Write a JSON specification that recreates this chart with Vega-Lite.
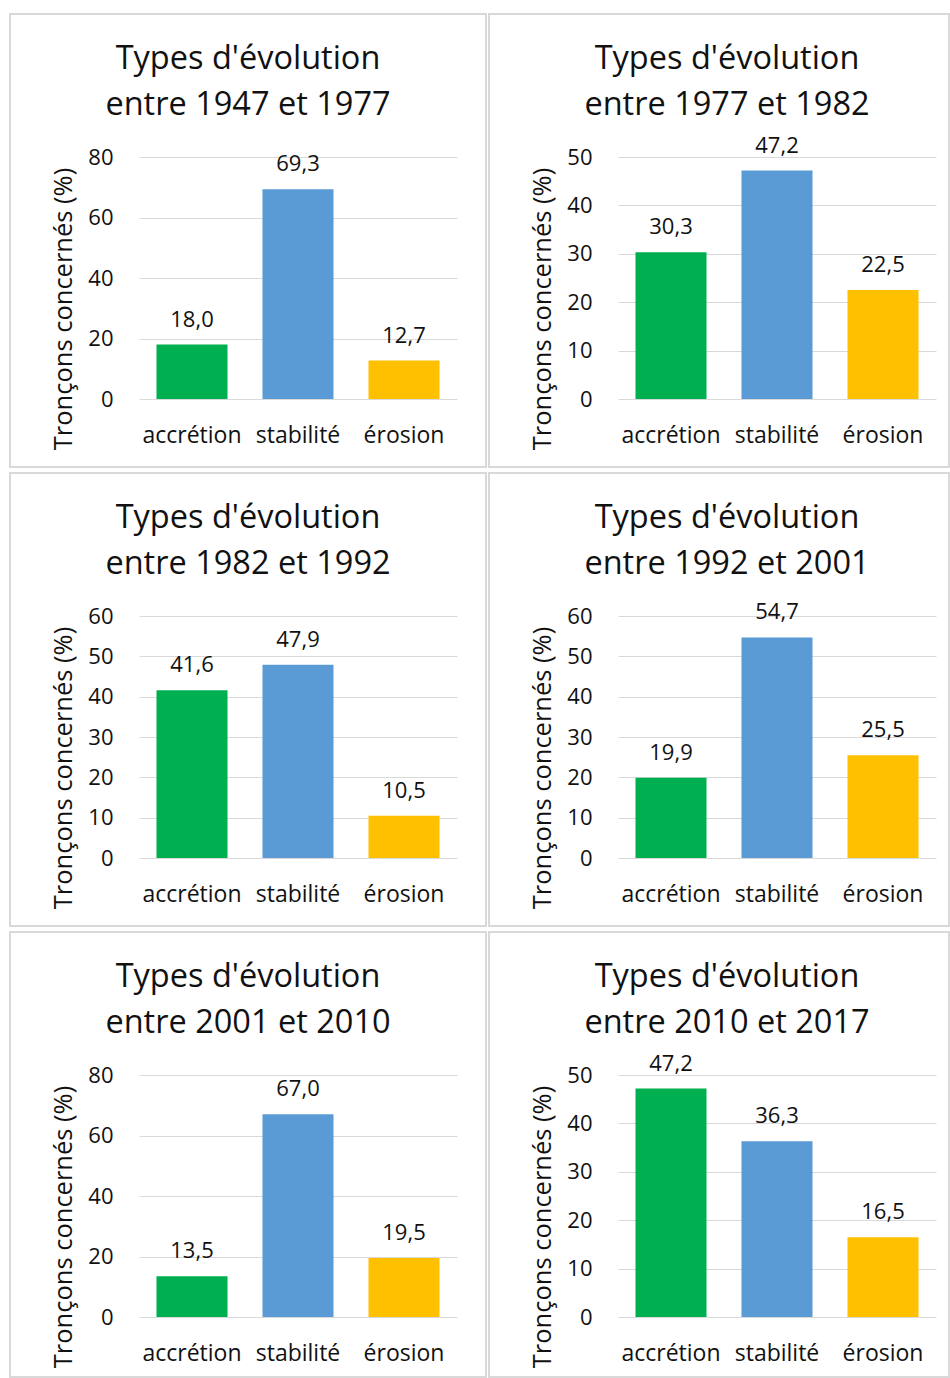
{
  "$schema": "https://vega.github.io/schema/vega-lite/v6.json",
  "padding": {"left": 9, "top": 13, "right": 0, "bottom": 0},
  "background": "white",
  "data": {"values": [
    {"periode": "1947-1977", "type": "accrétion", "valeur": 18.0},
    {"periode": "1947-1977", "type": "stabilité", "valeur": 69.3},
    {"periode": "1947-1977", "type": "érosion", "valeur": 12.7},
    {"periode": "1977-1982", "type": "accrétion", "valeur": 30.3},
    {"periode": "1977-1982", "type": "stabilité", "valeur": 47.2},
    {"periode": "1977-1982", "type": "érosion", "valeur": 22.5},
    {"periode": "1982-1992", "type": "accrétion", "valeur": 41.6},
    {"periode": "1982-1992", "type": "stabilité", "valeur": 47.9},
    {"periode": "1982-1992", "type": "érosion", "valeur": 10.5},
    {"periode": "1992-2001", "type": "accrétion", "valeur": 19.9},
    {"periode": "1992-2001", "type": "stabilité", "valeur": 54.7},
    {"periode": "1992-2001", "type": "érosion", "valeur": 25.5},
    {"periode": "2001-2010", "type": "accrétion", "valeur": 13.5},
    {"periode": "2001-2010", "type": "stabilité", "valeur": 67.0},
    {"periode": "2001-2010", "type": "érosion", "valeur": 19.5},
    {"periode": "2010-2017", "type": "accrétion", "valeur": 47.2},
    {"periode": "2010-2017", "type": "stabilité", "valeur": 36.3},
    {"periode": "2010-2017", "type": "érosion", "valeur": 16.5}
  ]},
  "columns": 2,
  "spacing": {"row": 4, "column": 1},
  "concat": [
    {
      "width": 476, "height": 453,
      "transform": [{"filter": "datum.periode == '1947-1977'"}],
      "title": {"text": ["Types d'évolution", "entre 1947 et 1977"]},
      "encoding": {
        "x": {"field": "type", "type": "nominal", "sort": ["accrétion", "stabilité", "érosion"], "scale": {"range": [129, 447], "paddingInner": 0.33, "paddingOuter": 0.165}, "axis": {"offset": -68}},
        "y": {"field": "valeur", "type": "quantitative", "scale": {"domain": [0, 80], "range": [385, 143], "nice": false, "zero": true}, "axis": {"values": [0, 20, 40, 60, 80], "offset": -129, "title": "Tronçons concernés (%)"}}
      },
      "layer": [
        {"mark": "bar", "encoding": {"color": {"field": "type", "type": "nominal", "scale": {"domain": ["accrétion", "stabilité", "érosion"], "range": ["#00b050", "#5b9bd5", "#ffc000"]}, "legend": null}}},
        {"mark": {"type": "text", "baseline": "alphabetic", "dy": -18, "fontSize": 22, "color": "#111111"}, "encoding": {"text": {"field": "valeur", "type": "quantitative", "format": ".1f"}}}
      ]
    },
    {
      "width": 460, "height": 453,
      "transform": [{"filter": "datum.periode == '1977-1982'"}],
      "title": {"text": ["Types d'évolution", "entre 1977 et 1982"], "dx": 8},
      "encoding": {
        "x": {"field": "type", "type": "nominal", "sort": ["accrétion", "stabilité", "érosion"], "scale": {"range": [129, 447], "paddingInner": 0.33, "paddingOuter": 0.165}, "axis": {"offset": -68}},
        "y": {"field": "valeur", "type": "quantitative", "scale": {"domain": [0, 50], "range": [385, 143], "nice": false, "zero": true}, "axis": {"values": [0, 10, 20, 30, 40, 50], "offset": -129, "title": "Tronçons concernés (%)"}}
      },
      "layer": [
        {"mark": "bar", "encoding": {"color": {"field": "type", "type": "nominal", "scale": {"domain": ["accrétion", "stabilité", "érosion"], "range": ["#00b050", "#5b9bd5", "#ffc000"]}, "legend": null}}},
        {"mark": {"type": "text", "baseline": "alphabetic", "dy": -18, "fontSize": 22, "color": "#111111"}, "encoding": {"text": {"field": "valeur", "type": "quantitative", "format": ".1f"}}}
      ]
    },
    {
      "width": 476, "height": 453,
      "transform": [{"filter": "datum.periode == '1982-1992'"}],
      "title": {"text": ["Types d'évolution", "entre 1982 et 1992"]},
      "encoding": {
        "x": {"field": "type", "type": "nominal", "sort": ["accrétion", "stabilité", "érosion"], "scale": {"range": [129, 447], "paddingInner": 0.33, "paddingOuter": 0.165}, "axis": {"offset": -68}},
        "y": {"field": "valeur", "type": "quantitative", "scale": {"domain": [0, 60], "range": [385, 143], "nice": false, "zero": true}, "axis": {"values": [0, 10, 20, 30, 40, 50, 60], "offset": -129, "title": "Tronçons concernés (%)"}}
      },
      "layer": [
        {"mark": "bar", "encoding": {"color": {"field": "type", "type": "nominal", "scale": {"domain": ["accrétion", "stabilité", "érosion"], "range": ["#00b050", "#5b9bd5", "#ffc000"]}, "legend": null}}},
        {"mark": {"type": "text", "baseline": "alphabetic", "dy": -18, "fontSize": 22, "color": "#111111"}, "encoding": {"text": {"field": "valeur", "type": "quantitative", "format": ".1f"}}}
      ]
    },
    {
      "width": 460, "height": 453,
      "transform": [{"filter": "datum.periode == '1992-2001'"}],
      "title": {"text": ["Types d'évolution", "entre 1992 et 2001"], "dx": 8},
      "encoding": {
        "x": {"field": "type", "type": "nominal", "sort": ["accrétion", "stabilité", "érosion"], "scale": {"range": [129, 447], "paddingInner": 0.33, "paddingOuter": 0.165}, "axis": {"offset": -68}},
        "y": {"field": "valeur", "type": "quantitative", "scale": {"domain": [0, 60], "range": [385, 143], "nice": false, "zero": true}, "axis": {"values": [0, 10, 20, 30, 40, 50, 60], "offset": -129, "title": "Tronçons concernés (%)"}}
      },
      "layer": [
        {"mark": "bar", "encoding": {"color": {"field": "type", "type": "nominal", "scale": {"domain": ["accrétion", "stabilité", "érosion"], "range": ["#00b050", "#5b9bd5", "#ffc000"]}, "legend": null}}},
        {"mark": {"type": "text", "baseline": "alphabetic", "dy": -18, "fontSize": 22, "color": "#111111"}, "encoding": {"text": {"field": "valeur", "type": "quantitative", "format": ".1f"}}}
      ]
    },
    {
      "width": 476, "height": 445,
      "transform": [{"filter": "datum.periode == '2001-2010'"}],
      "title": {"text": ["Types d'évolution", "entre 2001 et 2010"]},
      "encoding": {
        "x": {"field": "type", "type": "nominal", "sort": ["accrétion", "stabilité", "érosion"], "scale": {"range": [129, 447], "paddingInner": 0.33, "paddingOuter": 0.165}, "axis": {"offset": -60}},
        "y": {"field": "valeur", "type": "quantitative", "scale": {"domain": [0, 80], "range": [385, 143], "nice": false, "zero": true}, "axis": {"values": [0, 20, 40, 60, 80], "offset": -129, "title": "Tronçons concernés (%)"}}
      },
      "layer": [
        {"mark": "bar", "encoding": {"color": {"field": "type", "type": "nominal", "scale": {"domain": ["accrétion", "stabilité", "érosion"], "range": ["#00b050", "#5b9bd5", "#ffc000"]}, "legend": null}}},
        {"mark": {"type": "text", "baseline": "alphabetic", "dy": -18, "fontSize": 22, "color": "#111111"}, "encoding": {"text": {"field": "valeur", "type": "quantitative", "format": ".1f"}}}
      ]
    },
    {
      "width": 460, "height": 445,
      "transform": [{"filter": "datum.periode == '2010-2017'"}],
      "title": {"text": ["Types d'évolution", "entre 2010 et 2017"], "dx": 8},
      "encoding": {
        "x": {"field": "type", "type": "nominal", "sort": ["accrétion", "stabilité", "érosion"], "scale": {"range": [129, 447], "paddingInner": 0.33, "paddingOuter": 0.165}, "axis": {"offset": -60}},
        "y": {"field": "valeur", "type": "quantitative", "scale": {"domain": [0, 50], "range": [385, 143], "nice": false, "zero": true}, "axis": {"values": [0, 10, 20, 30, 40, 50], "offset": -129, "title": "Tronçons concernés (%)"}}
      },
      "layer": [
        {"mark": "bar", "encoding": {"color": {"field": "type", "type": "nominal", "scale": {"domain": ["accrétion", "stabilité", "érosion"], "range": ["#00b050", "#5b9bd5", "#ffc000"]}, "legend": null}}},
        {"mark": {"type": "text", "baseline": "alphabetic", "dy": -18, "fontSize": 22, "color": "#111111"}, "encoding": {"text": {"field": "valeur", "type": "quantitative", "format": ".1f"}}}
      ]
    }
  ],
  "config": {
    "font": "Open Sans",
    "view": {"stroke": "#d9d9d9", "strokeWidth": 2},
    "locale": {"number": {"decimal": ",", "thousands": " ", "grouping": [3], "currency": ["", " €"]}},
    "axis": {"domain": false, "ticks": false, "tickSize": 0, "gridColor": "#d9d9d9", "gridWidth": 1, "labelColor": "#111111", "titleColor": "#111111", "labelFont": "Open Sans", "titleFont": "Open Sans"},
    "axisX": {"grid": false, "labelAngle": 0, "labelFontSize": 23, "labelPadding": 43, "labelBaseline": "alphabetic", "title": null},
    "axisY": {"grid": true, "labelFontSize": 22, "labelPadding": 26, "titleFontSize": 25.5, "titleFontWeight": "normal", "titleX": -75.5, "titleY": 294.5, "titleAlign": "center", "titleBaseline": "middle", "titleAngle": -90},
    "title": {"fontSize": 32.5, "fontWeight": "normal", "color": "#111111", "lineHeight": 46, "offset": -107, "anchor": "middle", "frame": "group", "font": "Open Sans"}
  }
}
